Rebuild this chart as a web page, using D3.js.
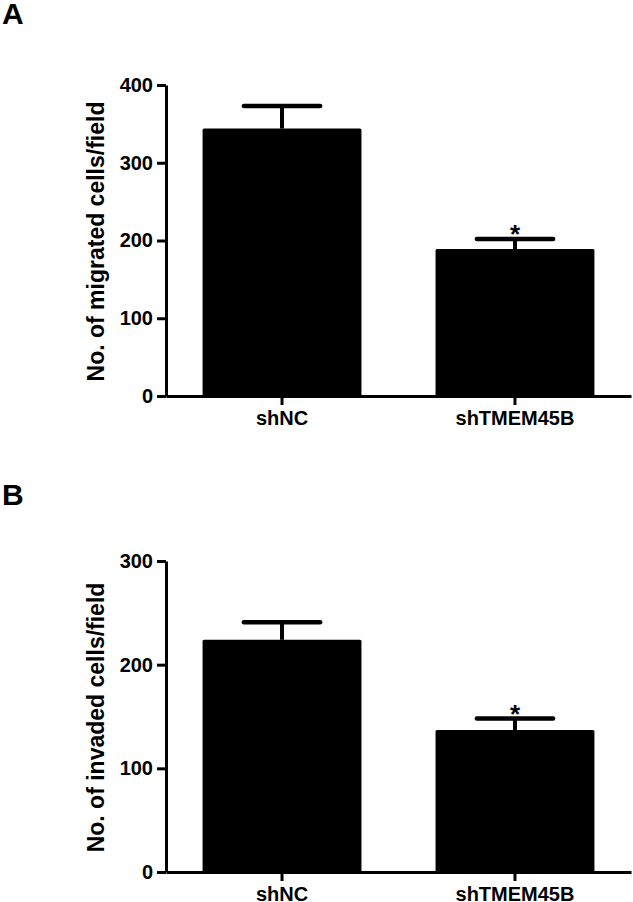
<!DOCTYPE html>
<html>
<head>
<meta charset="utf-8">
<script src="https://cdn.jsdelivr.net/npm/d3@7"></script>
<style>
  html, body { margin: 0; padding: 0; background: #fff; }
  svg { display: block; }
  text { font-family: "Liberation Sans", Arial, sans-serif; font-weight: bold; fill: #000; }
</style>
</head>
<body>
<script>
const categories = ["shNC", "shTMEM45B"];
const migratedMean = [344, 189];
const migratedErr = [29, 13];
const migratedSig = ["", "*"];
const migratedTicks = [0, 100, 200, 300, 400];
const invadedMean = [224, 137];
const invadedErr = [17, 11];
const invadedSig = ["", "*"];
const invadedTicks = [0, 100, 200, 300];

const W = 633, H = 902;
const svg = d3.select("body").append("svg").attr("width", W).attr("height", H);

function panel(opts) {
  const g = svg.append("g");
  const x = d3.scaleBand().domain(categories).range([166, 631])
    .paddingInner(0.318).paddingOuter(0.157);
  const y = d3.scaleLinear().domain([0, opts.max]).range([opts.bottom, opts.top]);

  // letter
  g.append("text").attr("x", 2).attr("y", opts.letterY)
    .attr("font-size", 30).text(opts.letter);

  // bars
  const data = categories.map((c, i) => ({c, m: opts.mean[i], e: opts.err[i], s: opts.sig[i]}));
  g.selectAll("rect.bar").data(data).enter().append("rect")
    .attr("class", "bar")
    .attr("x", d => x(d.c))
    .attr("y", d => y(d.m))
    .attr("width", x.bandwidth())
    .attr("height", d => y(0) - y(d.m))
    .attr("rx", 1.5)
    .attr("fill", "#000");

  // error bars
  const cx = d => x(d.c) + x.bandwidth() / 2;
  g.selectAll("line.stem").data(data).enter().append("line")
    .attr("x1", cx).attr("x2", cx)
    .attr("y1", d => y(d.m)).attr("y2", d => y(d.m + d.e))
    .attr("stroke", "#000").attr("stroke-width", 4);
  const capHalf = x.bandwidth() * 0.24;
  g.selectAll("line.cap").data(data).enter().append("line")
    .attr("x1", d => cx(d) - capHalf).attr("x2", d => cx(d) + capHalf)
    .attr("y1", d => y(d.m + d.e)).attr("y2", d => y(d.m + d.e))
    .attr("stroke", "#000").attr("stroke-width", 4.5).attr("stroke-linecap", "round");

  // significance stars
  g.selectAll("text.sig").data(data.filter(d => d.s)).enter().append("text")
    .attr("x", cx).attr("y", d => y(d.m + d.e) + 4)
    .attr("text-anchor", "middle").attr("font-size", 26).text(d => d.s);

  // axes
  const yAxis = g.append("g").attr("transform", `translate(166,0)`)
    .call(d3.axisLeft(y).tickValues(opts.ticks).tickSize(9).tickSizeOuter(0).tickPadding(4));
  const xAxis = g.append("g").attr("transform", `translate(0,${opts.bottom})`)
    .call(d3.axisBottom(x).tickSize(9).tickSizeOuter(0).tickPadding(6));
  [yAxis, xAxis].forEach(a => {
    a.select(".domain").attr("stroke", "#000").attr("stroke-width", 3);
    a.selectAll(".tick line").attr("stroke", "#000").attr("stroke-width", 3);
    a.selectAll(".tick text").attr("font-size", 20).attr("fill", "#000")
      .attr("font-family", "'Liberation Sans', Arial, sans-serif").attr("font-weight", "bold");
  });

  // y title
  g.append("text")
    .attr("transform", `translate(104,${(opts.top + opts.bottom) / 2 + 1}) rotate(-90)`)
    .attr("text-anchor", "middle").attr("font-size", 23).text(opts.title);
}

panel({letter: "A", letterY: 24, max: 400, top: 85, bottom: 396,
  mean: migratedMean, err: migratedErr, sig: migratedSig, ticks: migratedTicks,
  title: "No. of migrated cells/field"});
panel({letter: "B", letterY: 505, max: 300, top: 561, bottom: 872,
  mean: invadedMean, err: invadedErr, sig: invadedSig, ticks: invadedTicks,
  title: "No. of invaded cells/field"});
</script>
</body>
</html>
